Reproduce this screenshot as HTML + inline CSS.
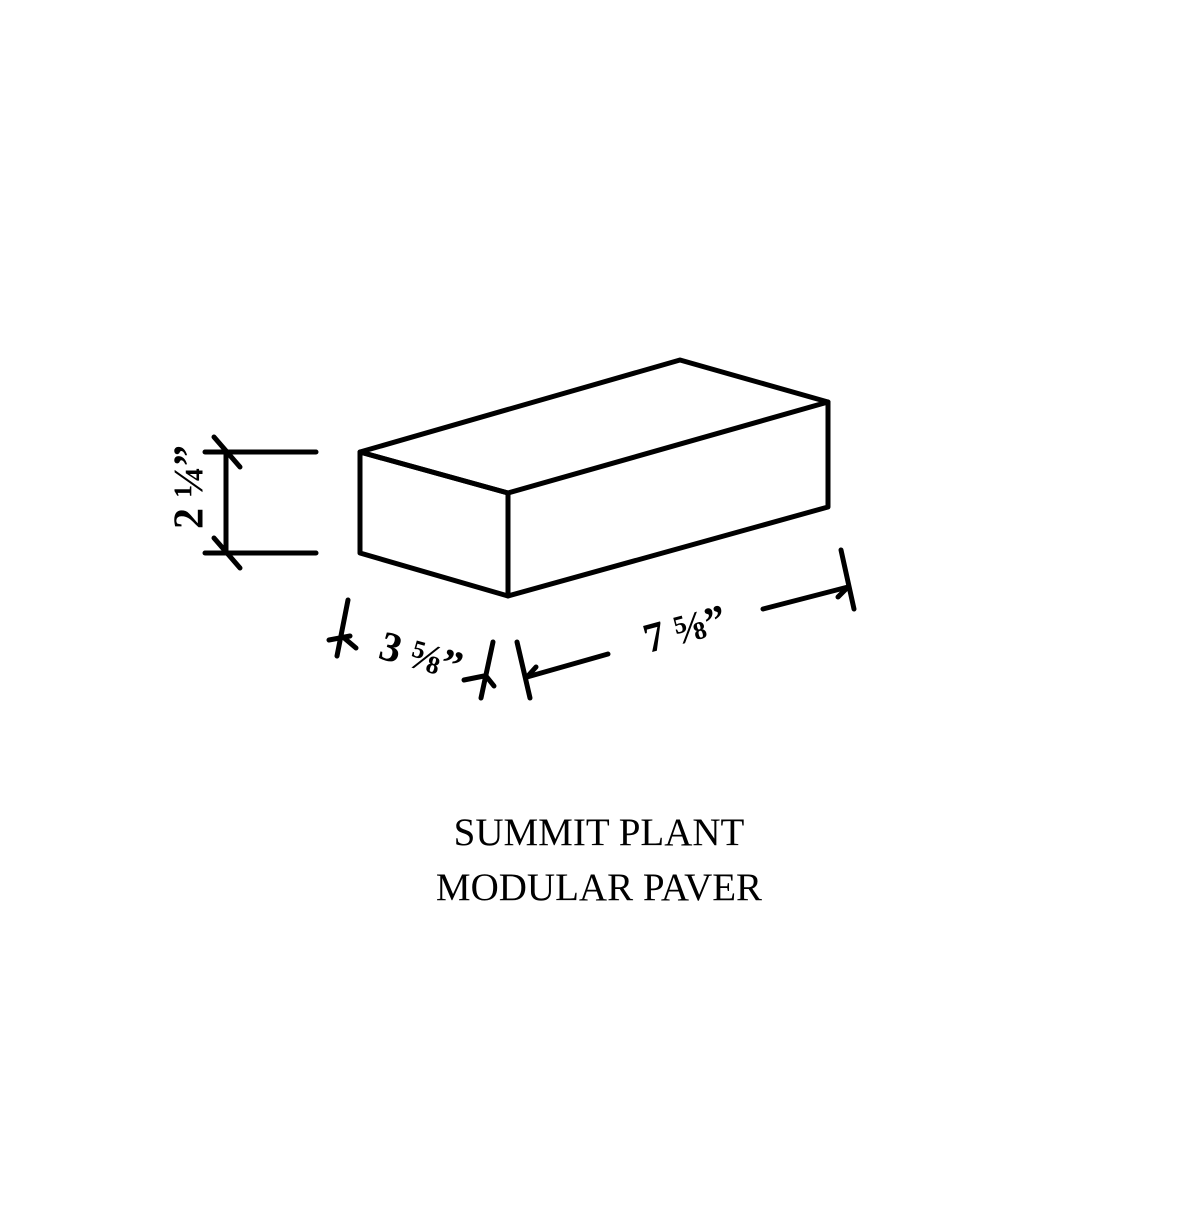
<!DOCTYPE html>
<html><head><style>
html,body{margin:0;padding:0;background:#fff;}
</style></head><body>
<svg width="1200" height="1200" viewBox="0 0 1200 1200" xmlns="http://www.w3.org/2000/svg">
<rect width="1200" height="1200" fill="#fff"/>
<g stroke="#000" stroke-width="5" fill="none" stroke-linecap="round" stroke-linejoin="round">
<polygon points="360,452 680,360 828,402 508,493"/>
<polygon points="360,452 508,493 508,596 360,553"/>
<polyline points="508,596 828,507 828,402"/>
<line x1="205" y1="452" x2="316" y2="452"/>
<line x1="205" y1="553" x2="316" y2="553"/>
<line x1="226" y1="452" x2="226" y2="553"/>
<line x1="214" y1="437" x2="240" y2="467"/>
<line x1="214" y1="538" x2="240" y2="568"/>
<line x1="348" y1="600" x2="337" y2="656"/>
<line x1="329" y1="640" x2="350" y2="636"/>
<line x1="343" y1="637" x2="356" y2="648"/>
<line x1="484" y1="676" x2="464" y2="680"/>
<line x1="486" y1="676" x2="494" y2="686"/>
<line x1="493" y1="642" x2="481" y2="698"/>
<line x1="517" y1="642" x2="530" y2="698"/>
<line x1="527" y1="677" x2="608" y2="654"/>
<line x1="527" y1="677" x2="536" y2="667"/>
<line x1="763" y1="609" x2="848" y2="587"/>
<line x1="848" y1="587" x2="838" y2="597"/>
<line x1="841" y1="550" x2="854" y2="609"/>
</g>
<g font-family="'Liberation Serif',serif" font-weight="bold" font-size="42" fill="#000">
<text transform="translate(193,487) rotate(-90)" text-anchor="middle" dominant-baseline="middle">2 ¼”</text>
<text transform="translate(420,660) rotate(16)" text-anchor="middle" dominant-baseline="middle">3 ⅝”</text>
<text transform="translate(686,633) rotate(-15)" text-anchor="middle" dominant-baseline="middle">7 ⅝”</text>
</g>
<g font-family="'Liberation Serif',serif" font-size="39" fill="#000" text-anchor="middle">
<text x="599" y="845">SUMMIT PLANT</text>
<text x="599" y="900">MODULAR PAVER</text>
</g>
</svg>
</body></html>
